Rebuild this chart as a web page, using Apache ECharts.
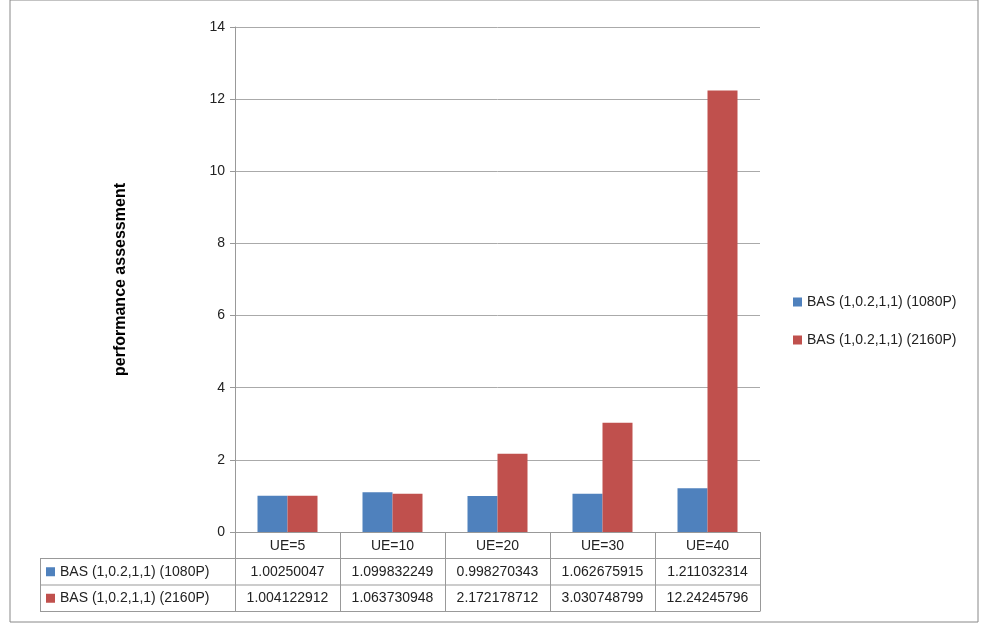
<!DOCTYPE html>
<html><head><meta charset="utf-8">
<script src="https://cdn.jsdelivr.net/npm/echarts@6/dist/echarts.min.js"></script>
<style>html,body{margin:0;padding:0;background:#fff}#c{width:981px;height:623px}</style>
</head><body><div id="c"></div>
<script>
const categories = ['UE=5','UE=10','UE=20','UE=30','UE=40'];
const seriesNames = ['BAS (1,0.2,1,1) (1080P)','BAS (1,0.2,1,1) (2160P)'];
const s1080 = [1.00250047,1.099832249,0.998270343,1.062675915,1.211032314];
const s2160 = [1.004122912,1.063730948,2.172178712,3.030748799,12.24245796];
const colors = ['#4f81bd','#c0504d'];
const FONT = 'Liberation Sans';
const chart = echarts.init(document.getElementById('c'));
const option = {
  animation:false,
  textStyle:{fontFamily:FONT},
  grid:{left:235,right:221,top:27,bottom:91},
  legend:{orient:'vertical',left:788,top:290,itemWidth:9,itemHeight:9,itemGap:24,icon:'rect',
    textStyle:{fontFamily:FONT,fontSize:14,color:'#222'},data:seriesNames},
  xAxis:{type:'category',data:categories,
    axisLine:{lineStyle:{color:'#999'}},
    axisTick:{show:false},
    axisLabel:{fontSize:14,color:'#222',margin:7}},
  yAxis:{type:'value',min:0,max:14,interval:2,
    name:'performance assessment',nameLocation:'middle',nameGap:106,
    nameTextStyle:{fontSize:16,fontWeight:'bold',color:'#000'},
    axisLine:{show:true,lineStyle:{color:'#999'}},
    axisTick:{show:true,length:5,lineStyle:{color:'#999'}},
    axisLabel:{fontSize:14,color:'#222',margin:10},
    splitLine:{lineStyle:{color:'#aaa'}}},
  series:[
    {name:seriesNames[0],type:'bar',data:s1080,barWidth:30,barGap:'0%',itemStyle:{color:colors[0]}},
    {name:seriesNames[1],type:'bar',data:s2160,barWidth:30,itemStyle:{color:colors[1]}}
  ]
};
chart.setOption(option);
const g = [];
const yBase = chart.convertToPixel({yAxisIndex:0},0);
const rowH = 26.5;
const tLeft = 40;
const centers = categories.map(c=>chart.convertToPixel({xAxisIndex:0},c));
const step = centers[1]-centers[0];
const gLeft = centers[0]-step/2, gRight = centers[centers.length-1]+step/2;
const vals = [s1080,s2160];
const yEnd = yBase + rowH*3;
for (let i=0;i<=categories.length;i++){
  const x = Math.round(gLeft+step*i)+0.5;
  g.push({type:'line',shape:{x1:x,y1:yBase,x2:x,y2:yEnd},style:{stroke:'#999',lineWidth:1}});
}
for (let r=0;r<2;r++){
  const yTop = yBase + rowH*(r+1);
  g.push({type:'line',shape:{x1:tLeft,y1:yTop,x2:gRight,y2:yTop},style:{stroke:'#999',lineWidth:1}});
  g.push({type:'rect',shape:{x:tLeft+6,y:yTop+rowH/2-4.5,width:9,height:9},style:{fill:colors[r]}});
  g.push({type:'text',x:tLeft+20,y:yTop+rowH/2,style:{text:seriesNames[r],font:'14px '+FONT,fill:'#222',textVerticalAlign:'middle'}});
  for (let i=0;i<categories.length;i++){
    g.push({type:'text',x:centers[i],y:yTop+rowH/2,style:{text:String(vals[r][i]),font:'14px '+FONT,fill:'#222',textAlign:'center',textVerticalAlign:'middle'}});
  }
}
g.push({type:'line',shape:{x1:tLeft,y1:yEnd,x2:gRight,y2:yEnd},style:{stroke:'#999',lineWidth:1}});
g.push({type:'line',shape:{x1:tLeft+0.5,y1:yBase+rowH,x2:tLeft+0.5,y2:yEnd},style:{stroke:'#999',lineWidth:1}});
g.push({type:'rect',shape:{x:10,y:0,width:968,height:622},style:{fill:'none',stroke:'#888',lineWidth:1}});
chart.setOption({graphic:g});
</script></body></html>
